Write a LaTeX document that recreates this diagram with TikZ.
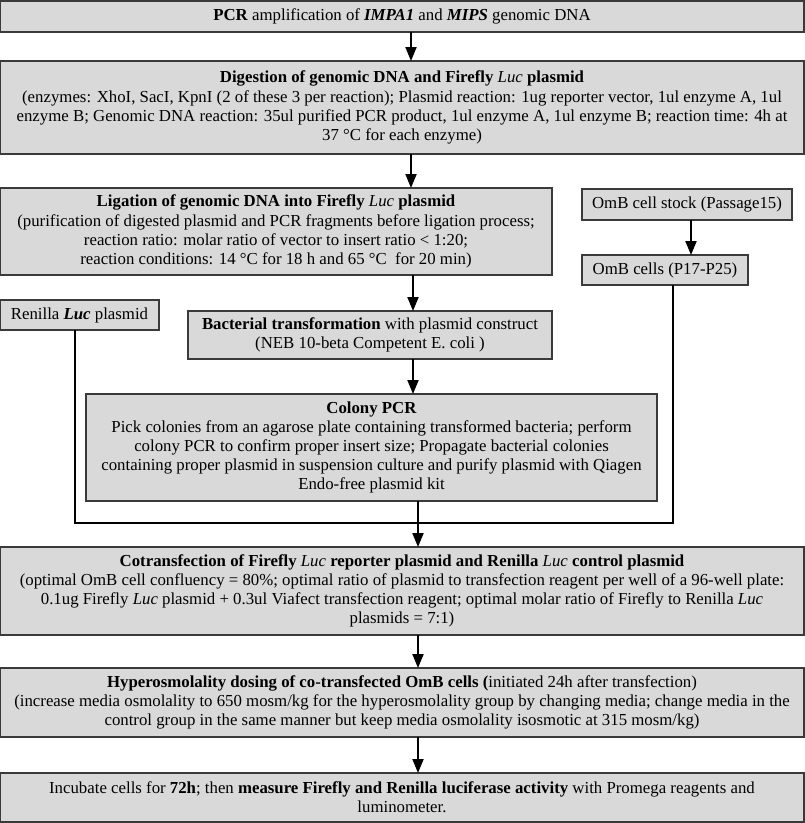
\documentclass[tikz,border=0pt]{standalone}
\usepackage{fontspec}
\setmainfont{Liberation Serif}
\usetikzlibrary{arrows.meta}
\definecolor{boxfill}{HTML}{D9D9D9}
\definecolor{boxdraw}{HTML}{3A3A3A}
\tikzset{
  stepbox/.style={draw=boxdraw, fill=boxfill, line width=1.4pt, rectangle, anchor=north west,
    inner sep=0pt, outer sep=0pt, align=center, font=\fontsize{16.8}{19.2}\selectfont},
  conn/.style={line width=2pt, black},
  arr/.style={conn, -{Triangle[width=11pt,length=14pt]}}
}
\newcommand{\lucm}{{\mdseries\itshape Luc}}
\begin{document}
\begin{tikzpicture}[x=1pt,y=-1pt]
\useasboundingbox (0,0) rectangle (805,823);
\node[stepbox, minimum width=804pt, minimum height=31pt] (b1) at (0,1)
  {\textbf{PCR} amplification of \textbf{\textit{IMPA1}} and \textbf{\textit{MIPS}} genomic DNA};
\node[stepbox, minimum width=804pt, minimum height=93pt] (b2) at (0,61)
  {\textbf{Digestion of genomic DNA and Firefly \lucm{} plasmid}\\
   (enzymes: XhoI, SacI, KpnI (2 of these 3 per reaction); Plasmid reaction: 1ug reporter vector, 1ul enzyme A, 1ul\\
   enzyme B; Genomic DNA reaction: 35ul purified PCR product, 1ul enzyme A, 1ul enzyme B; reaction time: 4h at\\
   37 °C for each enzyme)};
\node[stepbox, minimum width=552pt, minimum height=87pt] (b3) at (0,188)
  {\textbf{Ligation of genomic DNA into Firefly \lucm{} plasmid}\\
   (purification of digested plasmid and PCR fragments before ligation process;\\
   reaction ratio: molar ratio of vector to insert ratio < 1:20;\\
   reaction conditions: 14 °C for 18 h and 65 °C\ \ for 20 min)};
\node[stepbox, minimum width=210pt, minimum height=31pt] (stock) at (582,189)
  {OmB cell stock (Passage15)};
\node[stepbox, minimum width=166pt, minimum height=30pt] (cells) at (582,255)
  {OmB cells (P17-P25)};
\node[stepbox, minimum width=159pt, minimum height=30pt] (ren) at (0,300)
  {Renilla \textbf{\textit{Luc}} plasmid};
\node[stepbox, minimum width=364pt, minimum height=48pt] (bact) at (188,311)
  {\textbf{Bacterial transformation} with plasmid construct\\
   (NEB 10-beta Competent E. coli )};
\node[stepbox, minimum width=571pt, minimum height=107pt] (col) at (86,394)
  {\textbf{Colony PCR}\\
   Pick colonies from an agarose plate containing transformed bacteria; perform\\
   colony PCR to confirm proper insert size; Propagate bacterial colonies\\
   containing proper plasmid in suspension culture and purify plasmid with Qiagen\\
   Endo-free plasmid kit};
\node[stepbox, minimum width=804pt, minimum height=88pt] (cot) at (0,547)
  {\textbf{Cotransfection of Firefly \lucm{} reporter plasmid and Renilla \lucm{} control plasmid}\\
   (optimal OmB cell confluency = 80\%; optimal ratio of plasmid to transfection reagent per well of a 96-well plate:\\
   0.1ug Firefly \textit{Luc} plasmid + 0.3ul Viafect transfection reagent; optimal molar ratio of Firefly to Renilla \textit{Luc}\\
   plasmids = 7:1)};
\node[stepbox, minimum width=804pt, minimum height=69pt] (hyp) at (0,668)
  {\textbf{Hyperosmolality dosing of co-transfected OmB cells (}initiated 24h after transfection)\\
   (increase media osmolality to 650 mosm/kg for the hyperosmolality group by changing media; change media in the\\
   control group in the same manner but keep media osmolality isosmotic at 315 mosm/kg)};
\node[stepbox, minimum width=804pt, minimum height=49pt] (fin) at (0,773)
  {Incubate cells for \textbf{72h}; then \textbf{measure Firefly and Renilla luciferase activity} with Promega reagents and\\
   luminometer.};
\coordinate (j) at (418,523);
% connectors
\draw[arr] (b1.south -| 411,0) -- (b2.north -| 411,0);
\draw[arr] (b2.south -| 411,0) -- (b3.north -| 411,0);
\draw[arr] (b3.south -| 413,0) -- (bact.north -| 413,0);
\draw[arr] (bact.south -| 413,0) -- (col.north -| 413,0);
\draw[arr] (stock.south -| 691,0) -- (cells.north -| 691,0);
\draw[conn] (ren.south -| 75,0) |- (j) -| (cells.south -| 673,0);
\draw[arr] (col.south -| j) -- (cot.north -| j);
\draw[arr] (cot.south -| j) -- (hyp.north -| j);
\draw[arr] (hyp.south -| j) -- (fin.north -| j);
\end{tikzpicture}
\end{document}
